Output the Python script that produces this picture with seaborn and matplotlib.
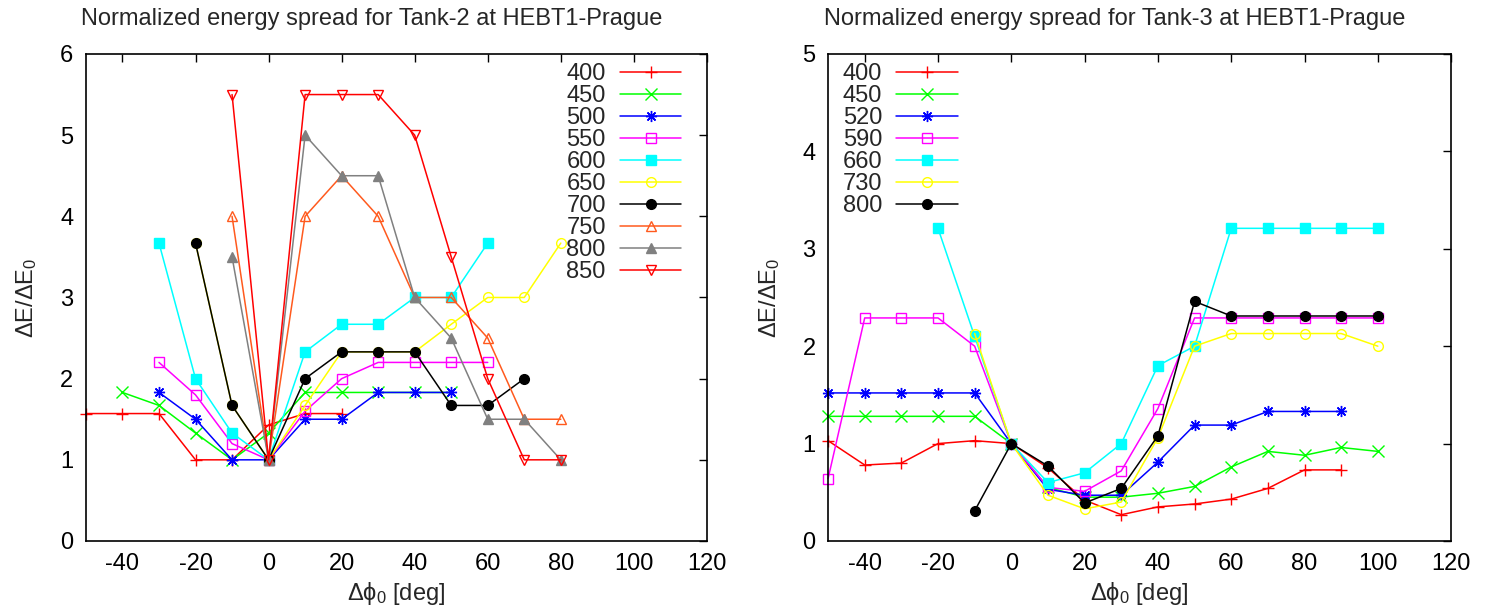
import numpy as np
import pandas as pd
import seaborn as sns
import matplotlib
matplotlib.use('Agg')
import matplotlib.pyplot as plt

# Tank-2 series (phase offset in deg, normalized energy spread)
t2_400_x = [-50, -40, -30, -20, -10, 0, 10, 20]
t2_400_y = [1.57, 1.57, 1.57, 1.0, 1.0, 1.43, 1.57, 1.57]
t2_450_x = [-40, -30, -20, -10, 0, 10, 20, 30, 40, 50]
t2_450_y = [1.83, 1.67, 1.33, 1.0, 1.33, 1.83, 1.83, 1.83, 1.83, 1.83]
t2_500_x = [-30, -20, -10, 0, 10, 20, 30, 40, 50]
t2_500_y = [1.83, 1.5, 1.0, 1.0, 1.5, 1.5, 1.83, 1.83, 1.83]
t2_550_x = [-30, -20, -10, 0, 10, 20, 30, 40, 50, 60]
t2_550_y = [2.2, 1.8, 1.2, 1.0, 1.6, 2.0, 2.2, 2.2, 2.2, 2.2]
t2_600_x = [-30, -20, -10, 0, 10, 20, 30, 40, 50, 60]
t2_600_y = [3.67, 2.0, 1.33, 1.0, 2.33, 2.67, 2.67, 3.0, 3.0, 3.67]
t2_650_x = [-20, -10, 0, 10, 20, 30, 40, 50, 60, 70, 80]
t2_650_y = [3.67, 1.67, 1.0, 1.67, 2.33, 2.33, 2.33, 2.67, 3.0, 3.0, 3.67]
t2_700_x = [-20, -10, 0, 10, 20, 30, 40, 50, 60, 70]
t2_700_y = [3.67, 1.67, 1.0, 2.0, 2.33, 2.33, 2.33, 1.67, 1.67, 2.0]
t2_750_x = [-10, 0, 10, 20, 30, 40, 50, 60, 70, 80]
t2_750_y = [4.0, 1.0, 4.0, 4.5, 4.0, 3.0, 3.0, 2.5, 1.5, 1.5]
t2_800_x = [-10, 0, 10, 20, 30, 40, 50, 60, 70, 80]
t2_800_y = [3.5, 1.0, 5.0, 4.5, 4.5, 3.0, 2.5, 1.5, 1.5, 1.0]
t2_850_x = [-10, 0, 10, 20, 30, 40, 50, 60, 70, 80]
t2_850_y = [5.5, 1.0, 5.5, 5.5, 5.5, 5.0, 3.5, 2.0, 1.0, 1.0]

# Tank-3 series
t3_400_x = [-50, -40, -30, -20, -10, 0, 10, 20, 30, 40, 50, 60, 70, 80, 90]
t3_400_y = [1.03, 0.78, 0.80, 1.0, 1.03, 1.0, 0.75, 0.42, 0.27, 0.35, 0.38, 0.43, 0.54, 0.73, 0.73]
t3_450_x = [-50, -40, -30, -20, -10, 0, 10, 20, 30, 40, 50, 60, 70, 80, 90, 100]
t3_450_y = [1.28, 1.28, 1.28, 1.28, 1.28, 1.0, 0.55, 0.45, 0.45, 0.49, 0.56, 0.76, 0.92, 0.88, 0.96, 0.92]
t3_520_x = [-50, -40, -30, -20, -10, 0, 10, 20, 30, 40, 50, 60, 70, 80, 90]
t3_520_y = [1.52, 1.52, 1.52, 1.52, 1.52, 1.0, 0.53, 0.47, 0.47, 0.81, 1.19, 1.19, 1.33, 1.33, 1.33]
t3_590_x = [-50, -40, -30, -20, -10, 0, 10, 20, 30, 40, 50, 60, 70, 80, 90, 100]
t3_590_y = [0.64, 2.29, 2.29, 2.29, 2.0, 1.0, 0.55, 0.51, 0.72, 1.36, 2.29, 2.29, 2.29, 2.29, 2.29, 2.29]
t3_660_x = [-20, -10, 0, 10, 20, 30, 40, 50, 60, 70, 80, 90, 100]
t3_660_y = [3.21, 2.1, 1.0, 0.6, 0.7, 1.0, 1.8, 2.0, 3.21, 3.21, 3.21, 3.21, 3.21]
t3_730_x = [-10, 0, 10, 20, 30, 40, 50, 60, 70, 80, 90, 100]
t3_730_y = [2.13, 1.0, 0.47, 0.33, 0.40, 1.06, 2.0, 2.13, 2.13, 2.13, 2.13, 2.0]
t3_800_x = [-10, 0, 10, 20, 30, 40, 50, 60, 70, 80, 90, 100]
t3_800_y = [0.31, 1.0, 0.77, 0.39, 0.54, 1.08, 2.46, 2.31, 2.31, 2.31, 2.31, 2.31]

tank2_series = [
    ('400', t2_400_x, t2_400_y), ('450', t2_450_x, t2_450_y),
    ('500', t2_500_x, t2_500_y), ('550', t2_550_x, t2_550_y),
    ('600', t2_600_x, t2_600_y), ('650', t2_650_x, t2_650_y),
    ('700', t2_700_x, t2_700_y), ('750', t2_750_x, t2_750_y),
    ('800', t2_800_x, t2_800_y), ('850', t2_850_x, t2_850_y),
]
tank3_series = [
    ('400', t3_400_x, t3_400_y), ('450', t3_450_x, t3_450_y),
    ('520', t3_520_x, t3_520_y), ('590', t3_590_x, t3_590_y),
    ('660', t3_660_x, t3_660_y), ('730', t3_730_x, t3_730_y),
    ('800', t3_800_x, t3_800_y),
]

# gnuplot-like point types: (color, marker, filled)
styles = [
    ('#ff0000', '+', False),
    ('#00ff00', 'x', False),
    ('#0000ff', (8, 2, 0), False),
    ('#ff00ff', 's', False),
    ('#00ffff', 's', True),
    ('#ffff00', 'o', False),
    ('#000000', 'o', True),
    ('#ff5a1e', '^', False),
    ('#808080', '^', True),
    ('#ff0000', 'v', False),
]

sns.set_style('white')
plt.rcParams['font.family'] = ['Liberation Sans', 'DejaVu Sans']
plt.rcParams['mathtext.fontset'] = 'custom'
plt.rcParams['mathtext.rm'] = 'Liberation Sans'
plt.rcParams['mathtext.it'] = 'Liberation Sans'
plt.rcParams['axes.unicode_minus'] = False

FS = 17

fig = plt.figure(figsize=(14.92, 6.14), dpi=100)
ax1 = fig.add_axes([0.0576, 0.1189, 0.4162, 0.7932])
ax2 = fig.add_axes([0.5550, 0.1189, 0.4176, 0.7932])


def draw(ax, series, ymax, title, legend_loc, legend_anchor):
    for (name, xs, ys), (col, mk, filled) in zip(series, styles):
        sns.lineplot(x=xs, y=ys, ax=ax, color=col, marker=mk,
                     markersize=7 if mk not in ('+', 'x', (8, 2, 0)) else 8,
                     markerfacecolor=col if filled else 'none',
                     markeredgecolor=col, markeredgewidth=1.0,
                     linewidth=1.1, label=name, clip_on=False)
    ax.set_xlim(-50, 120)
    ax.set_ylim(0, ymax)
    ax.set_xticks(np.arange(-40, 121, 20))
    ax.set_yticks(np.arange(0, ymax + 1, 1))
    ax.tick_params(direction='in', length=6, width=1.0, labelsize=FS,
                   top=True, right=True, pad=9, colors='black')
    for sp in ax.spines.values():
        sp.set_color('black')
        sp.set_linewidth(1.2)
    ax.set_title(title, fontsize=FS, x=0.46, pad=21)
    ax.set_xlabel(r'$\Delta\phi_0$ [deg]', fontsize=FS, labelpad=3)
    ax.set_ylabel(r'$\Delta$E/$\Delta$E$_0$', fontsize=FS, labelpad=15)
    ax.legend(loc=legend_loc, bbox_to_anchor=legend_anchor, frameon=False,
              markerfirst=False, fontsize=FS, handlelength=2.6,
              handletextpad=0.6, labelspacing=0.0, borderaxespad=0.0,
              borderpad=0.4, numpoints=1)


draw(ax1, tank2_series, 6, 'Normalized energy spread for Tank-2 at HEBT1-Prague',
     'upper right', (0.974, 1.0))
draw(ax2, tank3_series, 5, 'Normalized energy spread for Tank-3 at HEBT1-Prague',
     'upper left', (0.008, 1.0))

fig.savefig('out.png', dpi=100)
